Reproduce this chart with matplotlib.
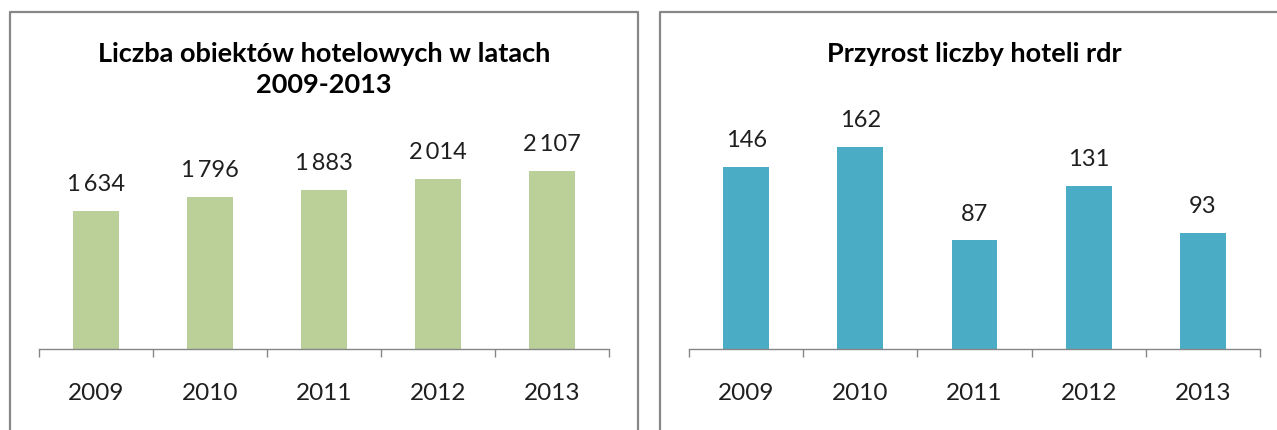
import matplotlib
matplotlib.use('Agg')
import matplotlib.pyplot as plt
from matplotlib.lines import Line2D
import numpy as np

years = ['2009', '2010', '2011', '2012', '2013']
hotels = [1634, 1796, 1883, 2014, 2107]
growth = [146, 162, 87, 131, 93]

title_left = ['Liczba obiektów hotelowych w latach', '2009-2013']
title_right = 'Przyrost liczby hoteli rdr'

plt.rcParams['font.family'] = ['Lato', 'DejaVu Sans']

W, H = 1277, 431
fig = plt.figure(figsize=(W / 100, H / 100), dpi=100)

border_col = '#878787'
axis_col = '#868686'
text_col = '#1f1f1f'

# panel frames
for xs, ys in [([10, 10, 638, 638], [440, 12.5, 12.5, 440]),
               ([660, 660, 1290], [440, 12.5, 12.5])]:
    fx = [x / W for x in xs]
    fy = [(H - y) / H for y in ys]
    fig.add_artist(Line2D(fx, fy, color=border_col, lw=1.6, clip_on=False))


def draw(ax, vals, color, ymax, fmt):
    x = np.arange(len(vals))
    ax.bar(x, vals, width=0.4, color=color, zorder=2)
    ax.set_xlim(-0.5, len(vals) - 0.5)
    ax.set_ylim(0, ymax)
    for s in ['top', 'right', 'left']:
        ax.spines[s].set_visible(False)
    ax.spines['bottom'].set_color(axis_col)
    ax.spines['bottom'].set_linewidth(1.0)
    ax.set_yticks([])
    ax.set_xticks(x)
    ax.set_xticklabels(years, fontsize=17.5, color=text_col)
    ax.tick_params(axis='x', which='major', length=0, pad=23.5)
    ax.set_xticks(np.arange(-0.5, len(vals)), minor=True)
    ax.tick_params(axis='x', which='minor', length=6, width=1.0,
                   color=axis_col, direction='out')
    for i, v in enumerate(vals):
        ax.annotate(fmt(v), (i, v), xytext=(0, 19.5), textcoords='offset points',
                    ha='center', va='center', fontsize=17, color=text_col)


ax1 = fig.add_axes([39 / W, 81 / H, 570 / W, 220 / H])
draw(ax1, hotels, '#bbcf98', 2600, lambda v: f'{v:,}'.replace(',', '\u2009'))

ax2 = fig.add_axes([689 / W, 81 / H, 571 / W, 220 / H])
draw(ax2, growth, '#4bacc6', 176.4, lambda v: str(v))

fig.text(324 / W, (H - 62) / H, title_left[0], ha='center', va='baseline',
         fontsize=19.5, fontweight='bold', color='black')
fig.text(324 / W, (H - 93) / H, title_left[1], ha='center', va='baseline',
         fontsize=19.5, fontweight='bold', color='black')
fig.text(974.5 / W, (H - 62) / H, title_right, ha='center', va='baseline',
         fontsize=19.5, fontweight='bold', color='black')

fig.savefig('out.png', dpi=100)
